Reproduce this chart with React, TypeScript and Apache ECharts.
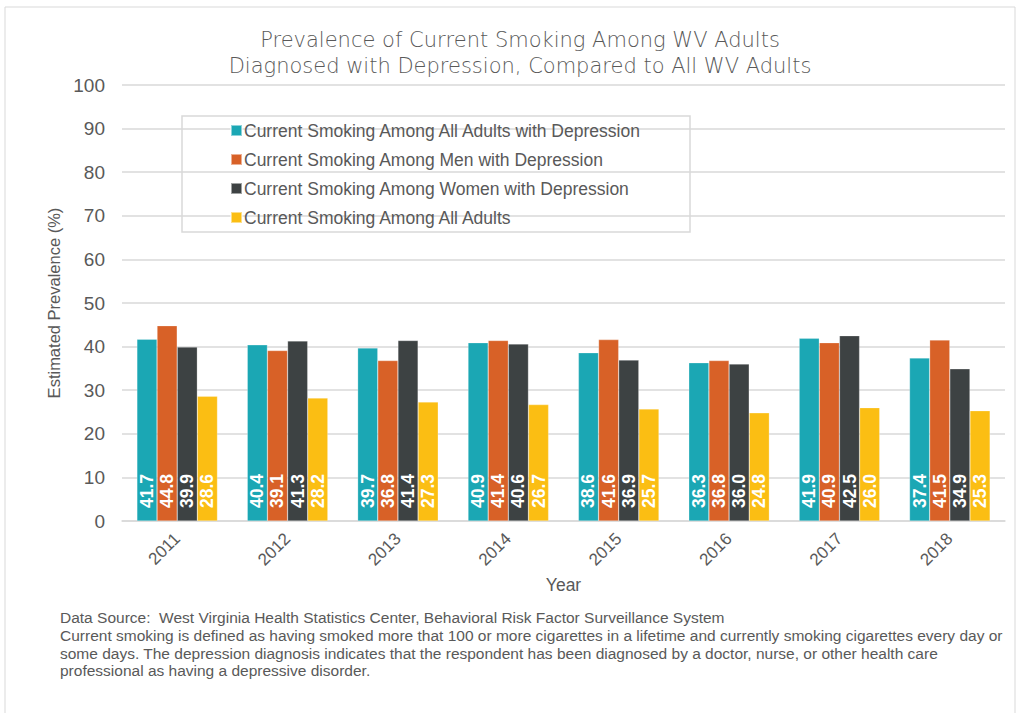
import React, { useEffect, useRef } from "react";
import * as echarts from "echarts";

const years = ["2011", "2012", "2013", "2014", "2015", "2016", "2017", "2018"];
const allDepressed = [41.7, 40.4, 39.7, 40.9, 38.6, 36.3, 41.9, 37.4];
const menDepressed = [44.8, 39.1, 36.8, 41.4, 41.6, 36.8, 40.9, 41.5];
const womenDepressed = [39.9, 41.3, 41.4, 40.6, 36.9, 36.0, 42.5, 34.9];
const allAdults = [28.6, 28.2, 27.3, 26.7, 25.7, 24.8, 26.0, 25.3];

const seriesNames = [
  "Current Smoking Among All Adults with Depression",
  "Current Smoking Among Men with Depression",
  "Current Smoking Among Women with Depression",
  "Current Smoking Among All Adults",
];
const colors = ["#1BA7B4", "#D86127", "#3D4243", "#FBBE13"];

const titleLines = [
  "Prevalence of Current Smoking Among WV Adults",
  "Diagnosed with Depression, Compared to All WV Adults",
];
const footerLines = [
  "Data Source:  West Virginia Health Statistics Center, Behavioral Risk Factor Surveillance System",
  "Current smoking is defined as having smoked more that 100 or more cigarettes in a lifetime and currently smoking cigarettes every day or",
  "some days. The depression diagnosis indicates that the respondent has been diagnosed by a doctor, nurse, or other health care",
  "professional as having a depressive disorder.",
];

export default function App() {
  const ref = useRef<HTMLDivElement>(null);
  useEffect(() => {
    if (!ref.current) return;
    const chart = echarts.init(ref.current, undefined, { renderer: "svg" });
    const data = [allDepressed, menDepressed, womenDepressed, allAdults];
    chart.setOption({
      animation: false,
      backgroundColor: "#ffffff",
      color: colors,
      title: titleLines.map((t, i) => ({
        text: t,
        left: 520,
        textAlign: "center",
        top: 29 + i * 26,
        padding: 0,
        textStyle: {
          fontFamily: "DejaVu Sans",
          fontWeight: 200,
          fontSize: 21,
          color: "#595959",
          lineHeight: 22,
        },
      })),
      legend: {
        orient: "vertical",
        left: 225,
        top: 116,
        itemWidth: 11,
        itemHeight: 11,
        itemGap: 10,
        icon: "rect",
        textStyle: {
          fontFamily: "Liberation Sans",
          fontSize: 17.5,
          lineHeight: 19,
          color: "#595959",
          padding: [0, 0, 0, -3],
        },
        data: seriesNames,
      },
      grid: { left: 122, right: 15, top: 85, bottom: 192 },
      xAxis: {
        type: "category",
        data: years,
        name: "Year",
        nameLocation: "middle",
        nameGap: 54,
        nameTextStyle: { fontFamily: "Liberation Sans", fontSize: 17.5, color: "#595959" },
        axisTick: { show: false },
        axisLine: { lineStyle: { color: "#d9d9d9", width: 1.5 } },
        axisLabel: {
          rotate: 45,
          margin: 15,
          fontFamily: "Liberation Sans",
          fontSize: 17,
          color: "#595959",
        },
      },
      yAxis: {
        type: "value",
        min: 0,
        max: 100,
        interval: 10,
        name: "Estimated Prevalence (%)",
        nameLocation: "middle",
        nameGap: 60,
        nameTextStyle: { fontFamily: "Liberation Sans", fontSize: 16.5, color: "#595959" },
        axisLine: { show: false },
        axisTick: { show: false },
        axisLabel: {
          margin: 17,
          fontFamily: "Liberation Sans",
          fontSize: 19,
          color: "#595959",
        },
        splitLine: { lineStyle: { color: "#d9d9d9", width: 1.5 } },
      },
      series: seriesNames.map((name, i) => ({
        name,
        type: "bar",
        data: data[i],
        barGap: "0%",
        barCategoryGap: "27%",
        itemStyle: { color: colors[i], borderColor: "rgba(255,255,255,0.5)", borderWidth: 0.5 },
        label: {
          show: true,
          position: "insideBottom",
          rotate: 90,
          align: "left",
          verticalAlign: "middle",
          distance: 13,
          formatter: (p: any) => Number(p.value).toFixed(1),
          color: "#ffffff",
          fontFamily: "Liberation Sans",
          fontWeight: "bold",
          fontSize: 17.5,
        },
      })),
      graphic: [
        {
          type: "rect",
          shape: { x: 5, y: 7, width: 1010, height: 712 },
          style: { fill: "none", stroke: "#d9d9d9", lineWidth: 1 },
          silent: true,
          z: -1,
        },
        {
          type: "rect",
          shape: { x: 182, y: 116, width: 508, height: 116 },
          style: { fill: "#ffffff", stroke: "#d9d9d9", lineWidth: 1.5 },
          silent: true,
          z: 0,
        },
        {
          type: "text",
          x: 60,
          y: 609,
          style: {
            text: footerLines.join("\n"),
            fontFamily: "Liberation Sans",
            fontSize: 15.5,
            lineHeight: 17.7,
            fill: "#595959",
          },
          silent: true,
        },
      ],
    });
    return () => chart.dispose();
  }, []);
  return (
    <div
      ref={ref}
      style={{ position: "absolute", left: 0, top: 0, width: 1020, height: 713 }}
    />
  );
}
